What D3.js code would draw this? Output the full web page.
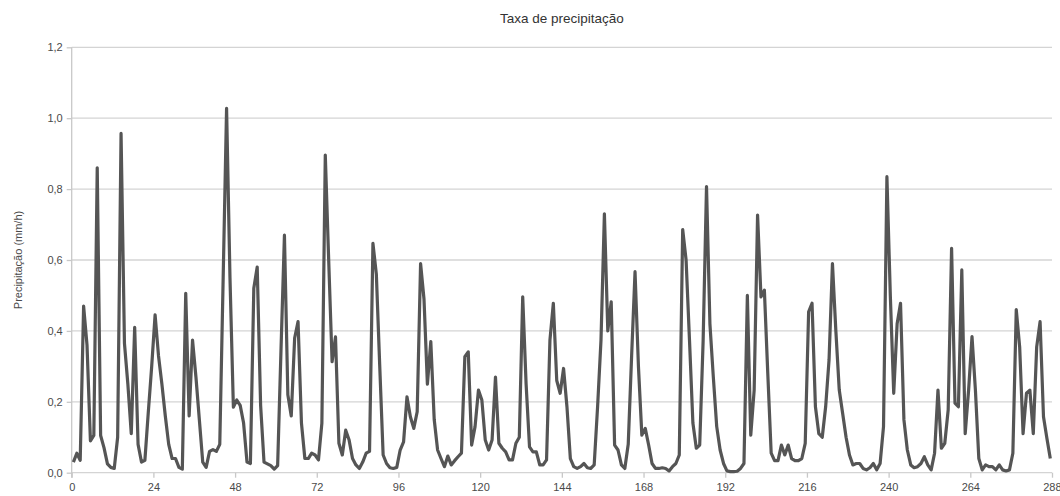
<!DOCTYPE html>
<html>
<head>
<meta charset="utf-8">
<script src="https://cdn.jsdelivr.net/npm/d3@7"></script>
<style>
  html, body { margin: 0; padding: 0; background: #fff; }
  svg { display: block; }
  text { font-family: "Liberation Sans", Arial, sans-serif; }
</style>
</head>
<body>
<svg id="chart" width="1060" height="496"></svg>
<script>
const title = "Taxa de precipitação";
const yLabel = "Precipitação (mm/h)";
const xTicks = [0, 24, 48, 72, 96, 120, 144, 168, 192, 216, 240, 264, 288];
const yTicks = [0, 0.2, 0.4, 0.6, 0.8, 1.0, 1.2];
// hourly precipitation rate, 288 consecutive hours
const precip = [
  0.03, 0.055, 0.035, 0.47, 0.36, 0.09, 0.105, 0.86, 0.105, 0.07,
  0.025, 0.015, 0.012, 0.1, 0.957, 0.365, 0.25, 0.11, 0.41, 0.08,
  0.03, 0.035, 0.17, 0.3, 0.445, 0.33, 0.25, 0.16, 0.08, 0.04,
  0.04, 0.015, 0.01, 0.506, 0.16, 0.374, 0.27, 0.15, 0.03, 0.015,
  0.06, 0.065, 0.06, 0.08, 0.55, 1.028, 0.55, 0.185, 0.205, 0.19,
  0.14, 0.03, 0.026, 0.52, 0.58, 0.19, 0.03, 0.025, 0.02, 0.01,
  0.02, 0.35, 0.67, 0.22, 0.16, 0.38, 0.426, 0.14, 0.04, 0.04,
  0.055, 0.05, 0.036, 0.14, 0.896, 0.6, 0.313, 0.383, 0.083, 0.05,
  0.12, 0.092, 0.04, 0.022, 0.012, 0.03, 0.055, 0.06, 0.647, 0.56,
  0.3, 0.05, 0.026, 0.014, 0.012, 0.015, 0.064, 0.087, 0.214, 0.158,
  0.125, 0.172, 0.59, 0.49, 0.25, 0.37, 0.15, 0.064, 0.04, 0.017,
  0.047, 0.022, 0.034, 0.045, 0.055, 0.327, 0.341, 0.078, 0.13, 0.233,
  0.205, 0.092, 0.064, 0.092, 0.27, 0.083, 0.069, 0.059, 0.036, 0.036,
  0.083, 0.1, 0.496, 0.25, 0.073, 0.059, 0.059, 0.022, 0.022, 0.036,
  0.374, 0.478, 0.26, 0.224, 0.294, 0.186, 0.04, 0.017, 0.012, 0.017,
  0.026, 0.014, 0.012, 0.022, 0.186, 0.374, 0.73, 0.4, 0.482, 0.078,
  0.064, 0.022, 0.012, 0.08, 0.33, 0.567, 0.3, 0.106, 0.125, 0.078,
  0.026, 0.012, 0.012, 0.014, 0.012, 0.005, 0.017, 0.026, 0.05, 0.686,
  0.6, 0.374, 0.14, 0.069, 0.078, 0.37, 0.807, 0.42, 0.27, 0.13,
  0.064, 0.026, 0.005, 0.003, 0.003, 0.004, 0.012, 0.026, 0.5, 0.106,
  0.233, 0.727, 0.496, 0.515, 0.28, 0.055, 0.034, 0.034, 0.078, 0.05,
  0.078, 0.04, 0.034, 0.034, 0.04, 0.083, 0.454, 0.478, 0.186, 0.11,
  0.1, 0.186, 0.318, 0.59, 0.4, 0.233, 0.167, 0.1, 0.05, 0.022,
  0.026, 0.026, 0.012, 0.008, 0.014, 0.026, 0.008, 0.026, 0.13, 0.835,
  0.5, 0.224, 0.42, 0.478, 0.149, 0.064, 0.022, 0.014, 0.017, 0.026,
  0.045, 0.022, 0.008, 0.055, 0.233, 0.069, 0.083, 0.177, 0.633, 0.196,
  0.186, 0.572, 0.11, 0.233, 0.384, 0.233, 0.04, 0.008, 0.022, 0.017,
  0.017, 0.008, 0.022, 0.008, 0.005, 0.008, 0.055, 0.46, 0.355, 0.11,
  0.224, 0.233, 0.11, 0.355, 0.426, 0.158, 0.097, 0.04
];

const svg = d3.select("#chart");
const m = { left: 71.7, right: 1052, top: 47.3, bottom: 472.7 };

const x = d3.scaleLinear().domain([0, 288]).range([m.left, m.right]);
const y = d3.scaleLinear().domain([0, 1.2]).range([m.bottom, m.top]);
const fmt = v => d3.format(".1f")(v).replace(".", ",");

// gridlines
svg.append("g")
  .selectAll("line")
  .data(yTicks)
  .join("line")
  .attr("x1", m.left).attr("x2", m.right)
  .attr("y1", d => y(d)).attr("y2", d => y(d))
  .attr("stroke", "#d4d4d4")
  .attr("stroke-width", 1.3);

// y axis
const yAxis = svg.append("g")
  .attr("transform", `translate(${m.left},0)`)
  .call(d3.axisLeft(y).tickValues(yTicks).tickFormat(fmt).tickSize(5).tickPadding(4));
yAxis.select(".domain").attr("stroke", "#c8c8c8").attr("stroke-width", 1.3)
  .attr("d", `M0,${m.top}V${m.bottom + 5}`);
yAxis.selectAll(".tick line").attr("stroke", "#c8c8c8").attr("stroke-width", 1.3);
yAxis.selectAll(".tick text").attr("fill", "#4a4a4a").attr("font-size", 11);

// x axis
const xAxis = svg.append("g")
  .attr("transform", `translate(0,${m.bottom})`)
  .call(d3.axisBottom(x).tickValues(xTicks).tickFormat(d3.format("d")).tickSize(5).tickPadding(6));
xAxis.select(".domain").remove();
xAxis.selectAll(".tick line").attr("stroke", "#c8c8c8").attr("stroke-width", 1.3);
xAxis.selectAll(".tick text").attr("fill", "#4a4a4a").attr("font-size", 11);
// keep the last label inside the page
xAxis.selectAll(".tick text").filter(d => d === xTicks[xTicks.length - 1])
  .attr("text-anchor", "end").attr("dx", "9px");

// line
const line = d3.line()
  .x((d, i) => x(i + 0.5))
  .y(d => y(d));
svg.append("path")
  .datum(precip)
  .attr("d", line)
  .attr("fill", "none")
  .attr("stroke", "#555")
  .attr("stroke-width", 3.2)
  .attr("stroke-linejoin", "round");

// title
svg.append("text")
  .attr("x", (m.left + m.right) / 2)
  .attr("y", 23)
  .attr("text-anchor", "middle")
  .attr("font-size", 13.5)
  .attr("fill", "#333")
  .text(title);

// y label
svg.append("text")
  .attr("transform", `translate(22,${(m.top + m.bottom) / 2}) rotate(-90)`)
  .attr("text-anchor", "middle")
  .attr("font-size", 11)
  .attr("fill", "#4a4a4a")
  .text(yLabel);
</script>
</body>
</html>
